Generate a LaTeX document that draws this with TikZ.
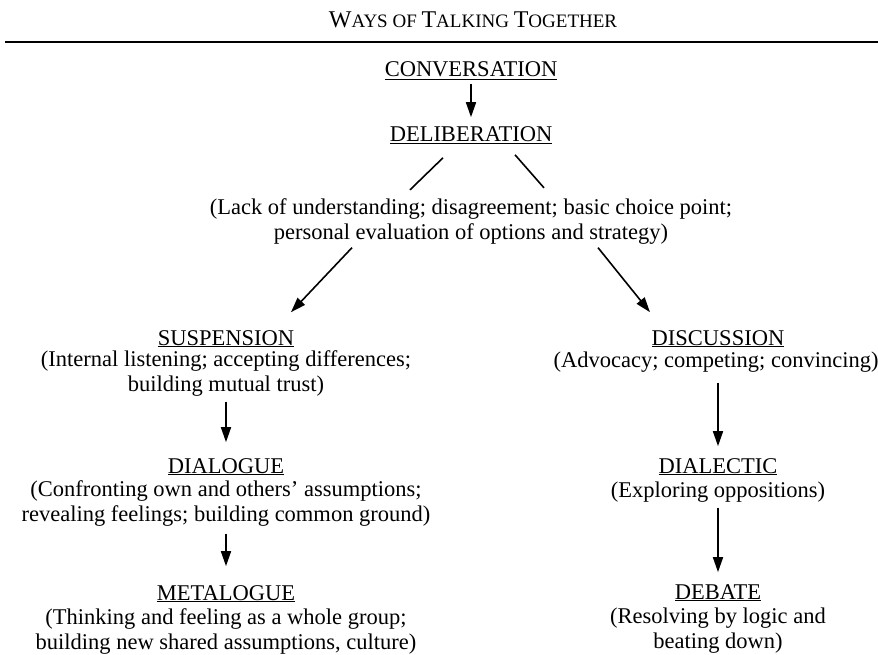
\documentclass[tikz,border=0pt]{standalone}
\usepackage{fontspec}
\setmainfont{Liberation Serif}
\usepackage{tikz}
\usetikzlibrary{arrows.meta}
\tikzstyle{every path}=[line width=1.6pt]
\tikzstyle{heading}=[inner sep=0pt, anchor=base, text height=14pt, text depth=0pt, font=\fontsize{22.5}{25}\selectfont]
\tikzstyle{note}=[inner sep=0pt, anchor=base, align=center, font=\fontsize{22.5}{25}\selectfont]
\tikzstyle{arrow}=[-{Triangle[length=15pt,width=10pt]}]
\newcommand{\titlecap}[1]{{\fontsize{24}{24}\selectfont #1}}

\begin{document}
\begin{tikzpicture}[x=1pt, y=-1pt]
            \useasboundingbox (0,0) rectangle (878,655);
            \node[anchor=base, inner sep=0pt, font=\fontsize{19}{20}\selectfont] (title) at (473, 28) {\titlecap{W}AYS OF \titlecap{T}ALKING \titlecap{T}OGETHER};
            \coordinate (ruleL) at (5, 42);
            \coordinate (ruleR) at (878, 42);
            \draw[line width=1.2pt] (ruleL) -- (ruleR);

            % base of a two-line note is its last line
            \node[heading] (conv) at (471, 77) {\underline{CONVERSATION}};
            \node[heading] (delib) at (471, 142) {\underline{DELIBERATION}};
            \node[note] (delibnote) at (471, 240) {(Lack of understanding; disagreement; basic choice point;\\personal evaluation of options and strategy)};

            \node[heading] (susp) at (226, 345) {\underline{SUSPENSION}};
            \node[note] (suspnote) at (226, 391) {(Internal listening; accepting differences;\\building mutual trust)};
            \node[heading] (dialogue) at (226, 473) {\underline{DIALOGUE}};
            \node[note] (dialoguenote) at (226, 521) {(Confronting own and others' assumptions;\\revealing feelings; building common ground)};
            \node[heading] (meta) at (226, 600) {\underline{METALOGUE}};
            \node[note] (metanote) at (226, 649) {(Thinking and feeling as a whole group;\\building new shared assumptions, culture)};

            \node[heading] (disc) at (718, 345) {\underline{DISCUSSION}};
            \node[note] (discnote) at (716, 367) {(Advocacy; competing; convincing)};
            \node[heading] (dialectic) at (718, 473) {\underline{DIALECTIC}};
            \node[note] (dialecticnote) at (718, 497) {(Exploring oppositions)};
            \node[heading] (debate) at (718, 599) {\underline{DEBATE}};
            \node[note] (debatenote) at (718, 648) {(Resolving by logic and\\beating down)};

            \draw[arrow, shorten <=6pt, shorten >=10pt] (conv.south) -- (delib.north);
            \draw ([xshift=-28pt, yshift=-15pt]delib.south) -- ([xshift=-61pt, yshift=8.5pt]delibnote.north);
            \draw ([xshift=44pt, yshift=-12pt]delib.south) -- ([xshift=73pt, yshift=10.5pt]delibnote.north);
            \draw[arrow] ([xshift=-119pt, yshift=-2pt]delibnote.south) -- ([xshift=65pt, yshift=18pt]susp.north);
            \draw[arrow] ([xshift=127pt, yshift=-2pt]delibnote.south) -- ([xshift=-68pt, yshift=18pt]disc.north);

            \draw[arrow, shorten <=5pt, shorten >=16pt] (suspnote.south) -- (dialogue.north);
            \draw[arrow, shorten <=7pt, shorten >=19pt] (dialoguenote.south) -- (meta.north);
            \draw[arrow, shorten <=10pt, shorten >=12pt] (discnote.south -| dialectic.north) -- (dialectic.north);
            \draw[arrow, shorten <=5pt, shorten >=12pt] (dialecticnote.south) -- (debate.north);
        \end{tikzpicture}
\end{document}
